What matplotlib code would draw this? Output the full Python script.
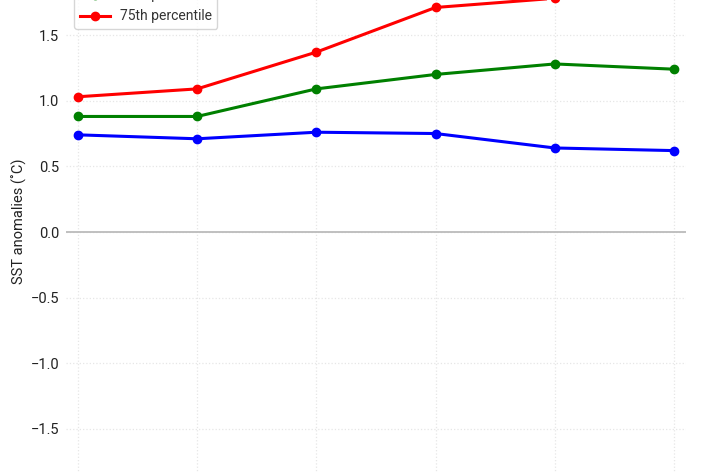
import numpy as np
import matplotlib.pyplot as plt

plt.rcParams['font.family'] = ['Roboto', 'DejaVu Sans']

periods = ['P1', 'P2', 'P3', 'P4', 'P5', 'P6']
p25 = [0.74, 0.71, 0.76, 0.75, 0.64, 0.62]
p50 = [0.88, 0.88, 1.09, 1.20, 1.28, 1.24]
p75 = [1.03, 1.09, 1.37, 1.71, 1.78, 1.86]
series_labels = ['25th percentile', '50th percentile', '75th percentile']
series_colors = ['blue', 'green', 'red']

fig = plt.figure(figsize=(7.1, 4.73), dpi=100)
# the original chart is cropped: the axes run past the top and bottom of the image
ax = fig.add_axes([0.093, -0.0457, 0.873, 1.1104])

x = np.arange(len(periods))
for vals, lab, col in zip([p25, p50, p75], series_labels, series_colors):
    ax.plot(x, vals, color=col, lw=2.2, marker='o', ms=6, label=lab, zorder=3)

ax.axhline(0, color='#bbbbbb', lw=1.3, zorder=2)
ax.set_xlim(-0.1, 5.1)
ax.set_ylim(-2, 2)
ax.set_yticks([-1.5, -1.0, -0.5, 0.0, 0.5, 1.0, 1.5])
ax.set_xticks(x)
ax.set_xticklabels(periods)
# x tick labels sit below the cropped area in the reference
ax.tick_params(axis='x', labelbottom=False)
ax.grid(True, color='#e6e6e6', ls=':', lw=0.9)
ax.tick_params(length=0, labelsize=10.5, colors='#222222', pad=5)
for s in ax.spines.values():
    s.set_visible(False)
ax.set_ylabel('SST anomalies (˚C)', fontsize=10.5, color='#222222')
ax.yaxis.set_label_coords(-0.063, 0.52)

leg = ax.legend(loc='lower left', bbox_to_anchor=(74 / 710, 1 - 29 / 473),
                bbox_transform=fig.transFigure, borderaxespad=0,
                fontsize=10, frameon=True, handlelength=2.2,
                handletextpad=0.7, borderpad=0.4, labelspacing=0.5)
leg.get_frame().set_edgecolor('#cccccc')
for t in leg.get_texts():
    t.set_color('#333333')

fig.savefig('out.png', dpi=100)
